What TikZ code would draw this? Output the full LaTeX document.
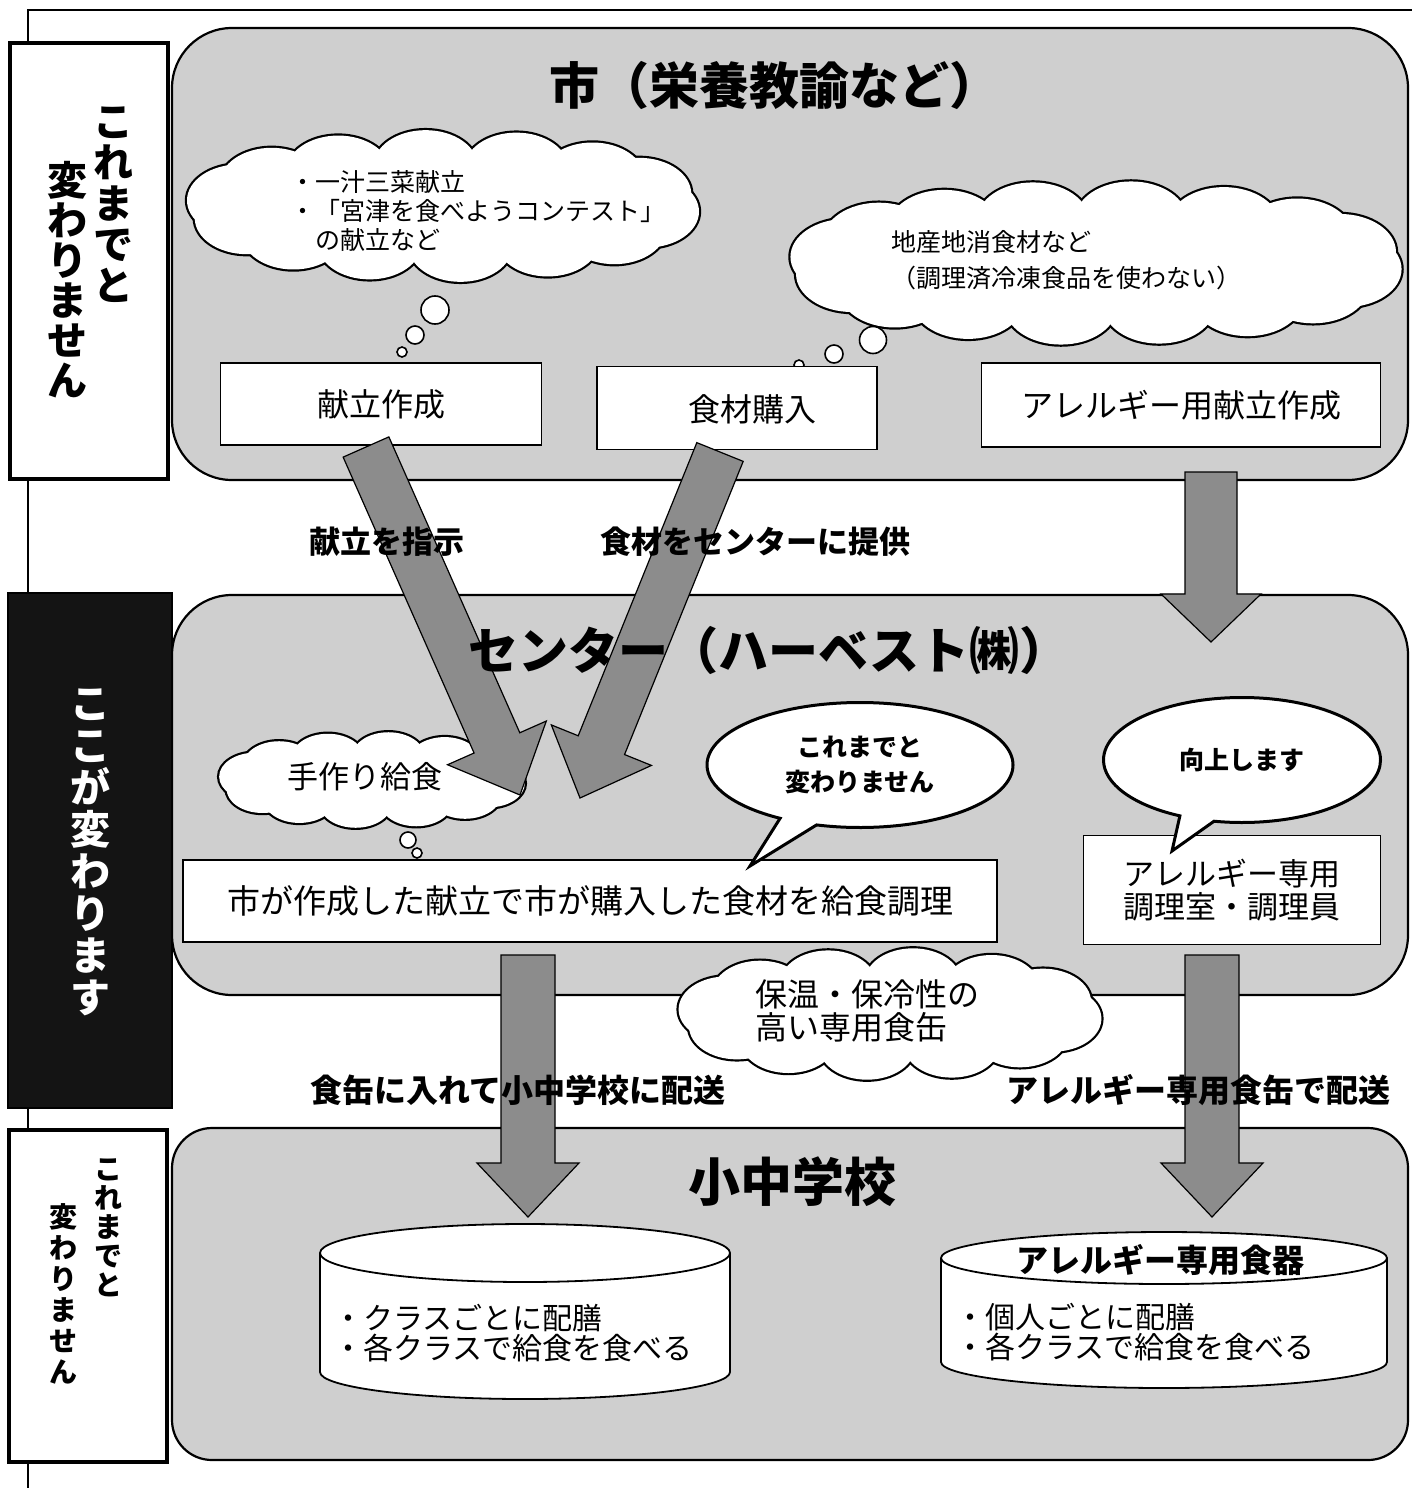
\documentclass[tikz,border=0pt]{standalone}
\usepackage{fontspec}
\setmainfont{Noto Sans CJK JP}
\usetikzlibrary{shapes.callouts,calc}
\definecolor{panel}{gray}{0.81}
\definecolor{arrowc}{gray}{0.55}
\newcommand\fs[1]{\fontsize{#1}{#1}\selectfont}
\newcommand\fatarrow[5]{%
  \coordinate (hb) at ($(#2)!#5!(#1)$);
  \draw[fatarr] ($(#1)!#3!90:(#2)$) -- ($(hb)!#3!-90:(#1)$) -- ($(hb)!#4!-90:(#1)$)
    -- (#2) -- ($(hb)!#4!90:(#1)$) -- ($(hb)!#3!90:(#1)$) -- ($(#1)!#3!-90:(#2)$) -- cycle;}
% #1 name, #2 centre, #3 ring x, #4 ring y, #5 puff rx, #6 puff ry, #7 number of puffs
\newcommand\puffcloud[7]{%
  \coordinate (#1) at #2;
  \foreach \k in {1,...,#7}{\draw[line width=4.4pt] ($(#1)+({#3*cos(360*\k/#7+8)},{#4*sin(360*\k/#7+8)})$) ellipse [x radius=#5, y radius=#6];}
  \foreach \k in {1,...,#7}{\fill[white] ($(#1)+({#3*cos(360*\k/#7+8)},{#4*sin(360*\k/#7+8)})$) ellipse [x radius=#5, y radius=#6];}
  \fill[white] (#1) ellipse [x radius=#3, y radius=#4];}
\tikzset{
  frameline/.style={line width=1.2pt},
  panelbox/.style={draw, line width=2.2pt, fill=panel, rounded corners=60pt, inner sep=0pt},
  sidebox/.style={draw, line width=3.5pt, fill=white, inner sep=0pt},
  darkbox/.style={draw, line width=2pt, fill=black!92, inner sep=0pt},
  whitebox/.style={draw, line width=1.8pt, fill=white, inner sep=0pt},
  bubble/.style={circle, draw, fill=white, line width=1.6pt, inner sep=0pt},
  speech/.style={ellipse callout, draw, fill=white, line width=3pt, inner sep=0pt, align=center},
  fatarr/.style={fill=arrowc, draw=black, line width=1.2pt, line join=miter},
  cyl/.style={line width=1.8pt},
  vtext/.style={align=center, inner sep=0pt},
}
\begin{document}
\begin{tikzpicture}[x=1pt,y=-1pt]
\useasboundingbox (0,0) rectangle (1412,1488);
\fill[white] (0,0) rectangle (1412,1488);

% outer frame
\coordinate (fTL) at (28,10); \coordinate (fTR) at (1412,10); \coordinate (fBL) at (28,1488);
\draw[frameline] (fTR) -- (fTL) -- (fBL);

% side boxes
\node[sidebox, minimum width=158pt, minimum height=436pt] (side1) at (89,261) {};
\node[vtext, font=\fontsize{40}{41}\bfseries\selectfont] (s1a) at (113,205) {こ\\れ\\ま\\で\\と};
\node[vtext, font=\fontsize{40}{40}\bfseries\selectfont] (s1b) at (67,280) {変\\わ\\り\\ま\\せ\\ん};

\node[darkbox, minimum width=164pt, minimum height=515pt] (side2) at (90,850) {};
\node[vtext, text=white, font=\fontsize{40}{42}\bfseries\selectfont] (s2) at (90,852) {こ\\こ\\が\\変\\わ\\り\\ま\\す};

\node[sidebox, minimum width=158pt, minimum height=332pt] (side3) at (88,1296) {};
\node[vtext, font=\fontsize{28}{29}\bfseries\selectfont] (s3a) at (108,1228) {こ\\れ\\ま\\で\\と};
\node[vtext, font=\fontsize{28}{31}\bfseries\selectfont] (s3b) at (63,1294) {変\\わ\\り\\ま\\せ\\ん};

% panels
\node[panelbox, minimum width=1236pt, minimum height=452pt] (city) at (790,254) {};
\node[panelbox, minimum width=1236pt, minimum height=400pt] (cpanel) at (790,795) {};
\node[panelbox, rounded corners=40pt, minimum width=1236pt, minimum height=332pt] (spanel) at (790,1294) {};

% city panel
\node[font=\fs{50}\bfseries] (cityT) at (774,85) {市（栄養教諭など）};

\puffcloud{cl1}{(443,206)}{206}{40}{52}{36}{14}
\node[font=\fontsize{25}{29}\selectfont, align=left, anchor=west, inner sep=0pt] (cl1t) at (290,211)
  {・一汁三菜献立\\・「宮津を食べようコンテスト」\\　の献立など};
\node[bubble, minimum size=28pt] (tb1) at (435,310) {};
\node[bubble, minimum size=18pt] (tb2) at (415,335) {};
\node[bubble, minimum size=10pt] (tb3) at (402,352) {};

\puffcloud{cl2}{(1096,263)}{252}{44}{56}{38}{16}
\node[font=\fontsize{25}{36}\selectfont, align=left, anchor=west, inner sep=0pt] (cl2t) at (891,260)
  {地産地消食材など\\（調理済冷凍食品を使わない）};
\node[bubble, minimum size=27pt] (tb4) at (873,340) {};
\node[bubble, minimum size=18pt] (tb5) at (834,354) {};
\node[bubble, minimum size=10pt] (tb6) at (799,365) {};

\node[whitebox, minimum width=321pt, minimum height=82pt, font=\fs{32}] (kondate) at (381,404) {献立作成};
\node[whitebox, minimum width=280pt, minimum height=83pt] (shokuzai) at (737,408) {};
\node[font=\fs{32}] (shokuzaiT) at (752,409) {食材購入};
\node[whitebox, minimum width=399pt, minimum height=84pt, font=\fs{32}] (allerK) at (1181,405) {アレルギー用献立作成};

% centre panel
\puffcloud{cl3}{(372,780)}{118}{24}{36}{24}{12}
\node[font=\fs{31}] (cl3t) at (365,777) {手作り給食};
\node[bubble, minimum size=16pt] (tb7) at (408,840) {};
\node[bubble, minimum size=10pt] (tb8) at (417,853) {};
\node[bubble, minimum size=6pt] (tb9) at (420,863) {};

% arrows city -> centre
\coordinate (a1t) at (366,447); \coordinate (a1h) at (520,795);
\coordinate (a2t) at (720,452); \coordinate (a2h) at (580,798);
\coordinate (a3t) at (1211,472); \coordinate (a3h) at (1211,642);
\fatarrow{a1t}{a1h}{25pt}{54pt}{57pt}
\fatarrow{a2t}{a2h}{25pt}{54pt}{57pt}
\fatarrow{a3t}{a3h}{26pt}{50pt}{48pt}

\node[font=\fs{31}\bfseries] (lb1) at (387,542) {献立を指示};
\node[font=\fs{31}\bfseries] (lb2) at (755,542) {食材をセンターに提供};
\node[font=\fs{50}\bfseries] (cT) at (769,650) {センター（ハーベスト㈱）};

\node[whitebox, minimum width=814pt, minimum height=82pt, font=\fs{33}] (cook) at (590,901) {市が作成した献立で市が購入した食材を給食調理};
\node[whitebox, minimum width=297pt, minimum height=109pt, font=\fontsize{31}{33}\selectfont, align=center] (allerR) at (1232,890) {アレルギー専用\\調理室・調理員};

\coordinate (p1) at (750,866);
\coordinate (p2) at (1172,851);
\node[speech, minimum width=306pt, minimum height=125pt, callout absolute pointer=(p1), font=\fontsize{25}{35}\bfseries\selectfont] (sb1) at (860,765) {これまでと\\変わりません};
\node[speech, minimum width=277pt, minimum height=125pt, callout absolute pointer=(p2), font=\fs{25}\bfseries] (sb2) at (1242,760) {向上します};

% arrows centre -> schools
\coordinate (a4t) at (528,955); \coordinate (a4h) at (528,1217);
\coordinate (a5t) at (1212,955); \coordinate (a5h) at (1212,1217);
\fatarrow{a4t}{a4h}{27pt}{51pt}{54pt}
\fatarrow{a5t}{a5h}{27pt}{51pt}{54pt}

\puffcloud{cl4}{(890,1014)}{165}{33}{48}{33}{12}
\node[font=\fontsize{32}{33}\selectfont, align=left, anchor=west, inner sep=0pt] (cl4t) at (755,1011) {保温・保冷性の\\高い専用食缶};

\node[font=\fs{32}\bfseries] (lb3) at (518,1090) {食缶に入れて小中学校に配送};
\node[font=\fs{32}\bfseries] (lb4) at (1198,1090) {アレルギー専用食缶で配送};

% schools panel
\node[font=\fs{52}\bfseries] (sT) at (792,1182) {小中学校};

% cylinder 1
\draw[cyl, fill=white] (525,1372) ellipse [x radius=205, y radius=27];
\fill[white] (320,1253) rectangle (730,1372);
\draw[cyl] (320,1253) -- (320,1372);
\draw[cyl] (730,1253) -- (730,1372);
\draw[cyl, fill=white] (525,1253) ellipse [x radius=205, y radius=29];
\node[font=\fontsize{30}{30}\selectfont, align=left, anchor=west, inner sep=0pt] (cy1t) at (333,1333)
  {・クラスごとに配膳\\・各クラスで給食を食べる};

% cylinder 2
\draw[cyl, fill=white] (1164,1362) ellipse [x radius=223, y radius=26];
\fill[white] (941,1258) rectangle (1387,1362);
\draw[cyl] (941,1258) -- (941,1362);
\draw[cyl] (1387,1258) -- (1387,1362);
\draw[cyl, fill=white] (1164,1258) ellipse [x radius=223, y radius=26];
\node[font=\fs{32}\bfseries] (cy2h) at (1160,1260) {アレルギー専用食器};
\node[font=\fontsize{30}{30}\selectfont, align=left, anchor=west, inner sep=0pt] (cy2t) at (955,1332)
  {・個人ごとに配膳\\・各クラスで給食を食べる};
\end{tikzpicture}
\end{document}
